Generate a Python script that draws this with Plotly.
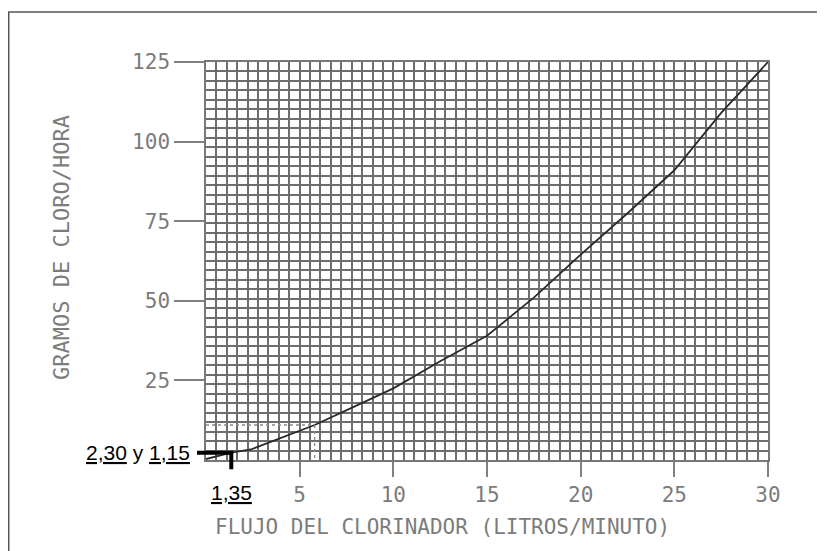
import plotly.graph_objects as go

# Curve: flow of chlorinator (L/min) vs grams of chlorine per hour
flow = [0, 1.35, 2.4, 4, 5.8, 8, 10, 12.5, 15, 17.5, 20, 22.5, 25, 27.5, 30]
chlorine = [0.3, 2.3, 3.3, 7, 11, 17, 22.5, 31, 39, 51, 64.5, 77.5, 91, 109, 125]

x_ticks = [5, 10, 15, 20, 25, 30]
y_ticks = [25, 50, 75, 100, 125]

X_MAX, Y_MAX = 30, 125
GRID_DX = 30 / 54
GRID_DY = 125 / 42

# reading example
READ_X, READ_Y = 1.35, 2.30
DOT_X, DOT_Y = 5.8, 11

tick_font = dict(family="DejaVu Sans Mono", size=21, color="#7c7c7c")
ann_font = dict(family="Liberation Sans", size=21, color="#000000")

fig = go.Figure()
fig.add_trace(go.Scatter(x=flow, y=chlorine, mode="lines",
                         line=dict(color="#2a2a2a", width=1.8), showlegend=False))

grid_color = "#6e6e6e"
fig.update_xaxes(range=[0, X_MAX], tickvals=x_ticks, ticktext=[str(v) for v in x_ticks],
                 ticks="outside", ticklen=15, tickwidth=1.5, tickcolor="#808080",
                 tickfont=tick_font, showgrid=False, zeroline=False,
                 showline=True, linecolor="#777777", linewidth=1.5, mirror=True,
                 minor=dict(dtick=GRID_DX, tick0=0, showgrid=True, gridcolor=grid_color,
                            gridwidth=1.8, ticks=""))
fig.update_yaxes(range=[0, Y_MAX], tickvals=y_ticks, ticktext=[str(v) for v in y_ticks],
                 ticks="outside", ticklen=30, tickwidth=1.5, tickcolor="#808080",
                 tickfont=tick_font, showgrid=False, zeroline=False,
                 showline=True, linecolor="#777777", linewidth=1.5, mirror=True,
                 minor=dict(dtick=GRID_DY, tick0=0, showgrid=True, gridcolor=grid_color,
                            gridwidth=1.8, ticks=""))

shapes = []
# dotted reading lines
shapes.append(dict(type="line", xref="x", yref="y", x0=0, y0=DOT_Y, x1=DOT_X, y1=DOT_Y,
                   line=dict(color="#8a8a8a", width=1.3, dash="dot")))
shapes.append(dict(type="line", xref="x", yref="y", x0=DOT_X, y0=DOT_Y, x1=DOT_X, y1=0,
                   line=dict(color="#8a8a8a", width=1.3, dash="dot")))
# thick pointer (paper coords so it is not clipped)
px = READ_X / X_MAX
py = READ_Y / Y_MAX
shapes.append(dict(type="path", xref="paper", yref="paper",
                   path=f"M -0.016 {py} L {px} {py} L {px} -0.023",
                   line=dict(color="#000000", width=4)))
# outer frame
shapes.append(dict(type="rect", xref="paper", yref="paper",
                   x0=-0.351, y0=-0.4, x1=1.098, y1=1.1256,
                   line=dict(color="#555555", width=1.5), fillcolor="rgba(0,0,0,0)"))

annotations = [
    dict(text="<u>2,30</u> y <u>1,15</u>", xref="paper", yref="paper",
         x=-0.025, y=py, xanchor="right", yanchor="middle", showarrow=False, font=ann_font),
    dict(text="<u>1,35</u>", xref="paper", yref="paper",
         x=px, y=-0.082, xanchor="center", yanchor="middle", showarrow=False, font=ann_font),
    dict(text="FLUJO DEL CLORINADOR (LITROS/MINUTO)", xref="paper", yref="paper",
         x=0.4217, y=-0.168, xanchor="center", yanchor="middle", showarrow=False,
         font=dict(family="DejaVu Sans Mono", size=21, color="#7c7c7c")),
    dict(text="GRAMOS DE CLORO/HORA", xref="paper", yref="paper",
         x=-0.256, y=0.533, xanchor="center", yanchor="middle", showarrow=False, textangle=-90,
         font=dict(family="DejaVu Sans Mono", size=22, color="#7c7c7c")),
]

# the page adds an 8px body margin, so the figure is offset by 8px in each direction
fig.update_layout(width=817, height=543, margin=dict(l=198, r=57, t=54, b=91),
                  plot_bgcolor="white", paper_bgcolor="white",
                  shapes=shapes, annotations=annotations, showlegend=False)

fig.write_html("out.html")
